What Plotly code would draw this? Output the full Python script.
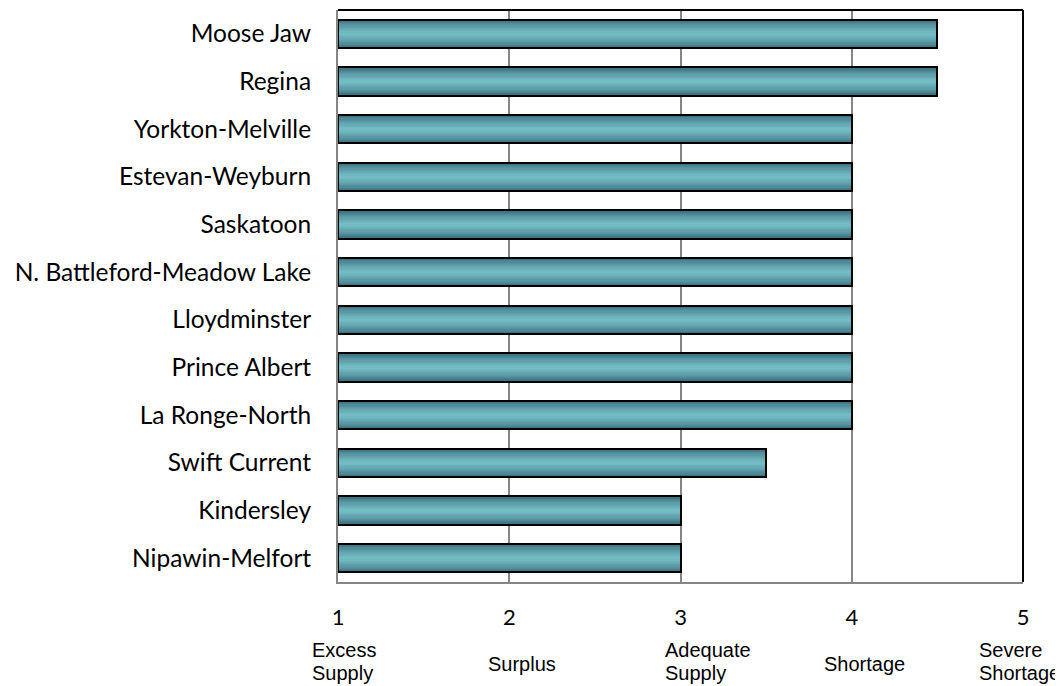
import plotly.graph_objects as go

regions = ["Moose Jaw", "Regina", "Yorkton-Melville", "Estevan-Weyburn", "Saskatoon",
           "N. Battleford-Meadow Lake", "Lloydminster", "Prince Albert", "La Ronge-North",
           "Swift Current", "Kindersley", "Nipawin-Melfort"]
ratings = [4.5, 4.5, 4, 4, 4, 4, 4, 4, 4, 3.5, 3, 3]
scale_ticks = [1, 2, 3, 4, 5]
scale_names = [["Excess", "Supply"], ["Surplus"], ["Adequate", "Supply"], ["Shortage"],
               ["Severe", "Shortage"]]
name_shift = [-28, -23, -18, -30, -46]  # pixel offsets of the text boxes

BASE = 1
lengths = [r - BASE for r in ratings]

def mix(c1, c2, t):
    return "rgb(%d,%d,%d)" % tuple(round(a + (b - a) * t) for a, b in zip(c1, c2))

dark = (46, 96, 112)
light = (116, 188, 196)
BW = 0.6
N = 12

fig = go.Figure()
for i in range(N):
    t = i / (N - 1)
    fig.add_trace(go.Bar(
        y=regions, x=lengths, base=BASE, orientation="h",
        width=BW * (1 - i / N), marker=dict(color=mix(dark, light, t ** 0.6), line=dict(width=0)),
        hoverinfo="skip", showlegend=False))
fig.add_trace(go.Bar(
    y=regions, x=lengths, base=BASE, orientation="h", width=BW,
    marker=dict(color="rgba(0,0,0,0)", line=dict(color="black", width=2)),
    showlegend=False))

# top/right black frame
fig.add_shape(type="line", xref="paper", yref="paper", x0=0, x1=1, y0=1, y1=1,
              line=dict(color="black", width=2))
fig.add_shape(type="line", xref="paper", yref="paper", x0=1, x1=1, y0=0, y1=1,
              line=dict(color="black", width=2))

for v, lines, dx in zip(scale_ticks, scale_names, name_shift):
    ys = [-68, -91] if len(lines) == 2 else [-82]
    for line, dy in zip(lines, ys):
        fig.add_annotation(x=v, xref="x", y=0, yref="paper", xshift=dx, yshift=dy, text=line,
                           showarrow=False, xanchor="left", yanchor="middle", align="left",
                           font=dict(family="Liberation Sans, Arial", size=20, color="black"))

fig.update_layout(
    width=1055, height=678,
    margin=dict(l=330, r=40, t=2, b=104),
    paper_bgcolor="white", plot_bgcolor="white",
    barmode="overlay", bargap=0,
    font=dict(family="Lato", size=24, color="black"),
    xaxis=dict(range=[1, 5], tickvals=scale_ticks, showgrid=True, gridcolor="#868686",
               gridwidth=1.5, showline=True, linecolor="#868686", linewidth=2,
               zeroline=False, ticks="", ticklabelstandoff=15, tickfont=dict(size=22)),
    yaxis=dict(autorange="reversed", showline=True, linecolor="#868686", linewidth=2,
               showgrid=False, ticks="", ticklabelstandoff=20, tickfont=dict(size=24.5)),
)
fig.write_html("out.html")
